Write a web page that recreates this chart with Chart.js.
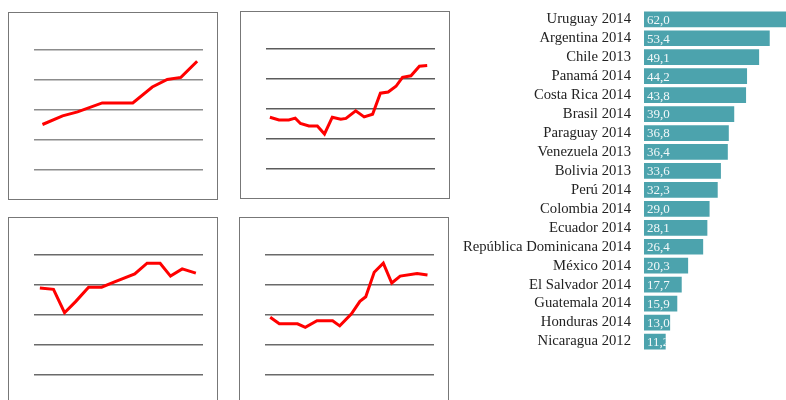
<!DOCTYPE html>
<html>
<head>
<meta charset="utf-8">
<script src="https://cdn.jsdelivr.net/npm/chart.js@4.4.0/dist/chart.umd.min.js"></script>
<style>
  html, body { margin: 0; padding: 0; background: #fff; }
  body { width: 786px; height: 400px; position: relative; overflow: hidden; }
  .box { position: absolute; width: 208px; height: 186px; border: 1px solid #777; }
  .box canvas { position: absolute; left: 0; top: 0; }
  #bars { position: absolute; left: 440px; top: -12px; }
</style>
</head>
<body>
<div class="box" style="left:8px;top:12px"><canvas id="p1" width="208" height="186"></canvas></div>
<div class="box" style="left:240px;top:11px"><canvas id="p2" width="208" height="186"></canvas></div>
<div class="box" style="left:8px;top:217px"><canvas id="p3" width="208" height="186"></canvas></div>
<div class="box" style="left:239px;top:217px"><canvas id="p4" width="208" height="186"></canvas></div>
<canvas id="bars" width="346" height="412"></canvas>

<script>
// small line panels (years / values)
const years1 = [1990.3, 1993.4, 1995.7, 1999.5, 2004.2, 2007.2, 2009.5, 2011.6, 2014.1];
const values1 = [15.0, 17.9, 19.2, 22.2, 22.2, 27.5, 30.0, 30.7, 36.1];

const years2 = [1989.6, 1991.0, 1992.5, 1993.5, 1994.3, 1995.6, 1996.9, 1998.0, 1999.2, 2000.5, 2001.3,
                2002.8, 2004.1, 2005.4, 2006.6, 2007.8, 2009.0, 2010.0, 2011.3, 2012.6, 2013.8];
const values2 = [17.1, 16.2, 16.2, 16.8, 15.0, 14.2, 14.2, 11.5, 17.1, 16.4, 16.7,
                 19.2, 17.2, 18.1, 25.1, 25.5, 27.4, 30.4, 30.9, 34.1, 34.3];

const years3 = [1989.9, 1992.0, 1993.7, 1995.4, 1997.4, 1999.4, 2001.3, 2004.5, 2006.4, 2008.4, 2010.0, 2011.8, 2013.9];
const values3 = [28.8, 28.4, 20.6, 24.3, 29.1, 29.1, 30.8, 33.5, 37.1, 37.1, 32.8, 35.2, 33.8];

const years4 = [1989.8, 1991.2, 1994.0, 1995.2, 1997.0, 1999.4, 2000.5, 2002.3, 2003.6, 2004.5, 2005.8,
                2007.2, 2008.5, 2009.8, 2012.4, 2014.0];
const values4 = [19.1, 16.9, 16.9, 15.7, 17.9, 17.9, 16.2, 20.2, 24.4, 25.9, 34.1,
                 37.1, 30.5, 32.8, 33.7, 33.2];

const yearMin = 1989;
const yearMax = 2015;
const gridTicks = [0, 10, 20, 30, 40];

// bar chart
const countries = ['Uruguay 2014', 'Argentina 2014', 'Chile 2013', 'Panamá 2014', 'Costa Rica 2014',
  'Brasil 2014', 'Paraguay 2014', 'Venezuela 2013', 'Bolivia 2013', 'Perú 2014', 'Colombia 2014',
  'Ecuador 2014', 'República Dominicana 2014', 'México 2014', 'El Salvador 2014', 'Guatemala 2014',
  'Honduras 2014', 'Nicaragua 2012'];
const barValues = [62.0, 53.4, 49.1, 44.2, 43.8, 39.0, 36.8, 36.4, 33.6, 32.3, 29.0,
  28.1, 26.4, 20.3, 17.7, 15.9, 13.0, 11.2];

function makeLine(id, years, values, gridColor) {
  new Chart(document.getElementById(id), {
    type: 'line',
    data: {
      datasets: [{
        data: years.map((y, i) => ({ x: y, y: values[i] })),
        borderColor: '#ff0000',
        borderWidth: 3,
        pointRadius: 0,
        tension: 0,
        fill: false
      }]
    },
    options: {
      responsive: false,
      animation: false,
      layout: { padding: { left: 25, right: 14, top: 36.5, bottom: 29.5 } },
      plugins: { legend: { display: false }, tooltip: { enabled: false } },
      scales: {
        x: { type: 'linear', min: yearMin, max: yearMax, display: false },
        y: {
          min: gridTicks[0],
          max: gridTicks[gridTicks.length - 1],
          afterBuildTicks: scale => { scale.ticks = gridTicks.map(v => ({ value: v })); },
          afterFit: scale => { scale.width = 0; },
          ticks: { display: false },
          border: { display: false },
          grid: { color: gridColor, lineWidth: 1.5, drawTicks: false }
        }
      }
    }
  });
}

makeLine('p1', years1, values1, '#8c8c8c');
makeLine('p2', years2, values2, '#5c5c5c');
makeLine('p3', years3, values3, '#6a6a6a');
makeLine('p4', years4, values4, '#6a6a6a');

const valueLabels = {
  id: 'valueLabels',
  afterDatasetsDraw(chart) {
    const ctx = chart.ctx;
    const area = chart.chartArea;
    const meta = chart.getDatasetMeta(0);
    ctx.save();
    ctx.font = '13px "Liberation Serif"';
    ctx.fillStyle = '#f2f8f9';
    ctx.textBaseline = 'middle';
    meta.data.forEach((bar, i) => {
      const right = Math.min(bar.x, area.right);
      ctx.save();
      ctx.beginPath();
      ctx.rect(area.left, bar.y - bar.height / 2, right - area.left, bar.height);
      ctx.clip();
      ctx.fillText(barValues[i].toFixed(1).replace('.', ','), area.left + 3, bar.y + 1);
      ctx.restore();
    });
    ctx.restore();
  }
};

new Chart(document.getElementById('bars'), {
  type: 'bar',
  data: {
    labels: countries,
    datasets: [{
      data: barValues,
      backgroundColor: '#4ca3ad',
      barPercentage: 0.83,
      categoryPercentage: 1
    }]
  },
  options: {
    indexAxis: 'y',
    responsive: false,
    animation: false,
    layout: { padding: { top: 21, bottom: 49, right: 0 } },
    plugins: { legend: { display: false }, tooltip: { enabled: false } },
    scales: {
      x: { min: 2.4, max: 60, display: false },
      y: {
        afterFit: scale => { scale.width = 204; },
        grid: { display: false, drawTicks: false },
        border: { display: false },
        ticks: {
          autoSkip: false,
          color: '#222',
          padding: 13,
          font: { family: '"Liberation Serif"', size: 14.7 }
        }
      }
    }
  },
  plugins: [valueLabels]
});
</script>
</body>
</html>
